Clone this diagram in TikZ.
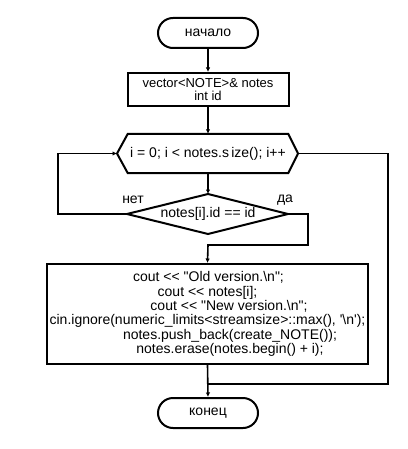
\documentclass[tikz,border=0pt]{standalone}
\usepackage{fontspec}
\setmainfont{Liberation Sans}[Ligatures=TeXOff]
\usetikzlibrary{arrows.meta,calc}
\begin{document}
\begin{tikzpicture}[x=1pt,y=-1pt,
  every node/.style={font=\fontsize{14}{14.3}\selectfont},
  shp/.style={draw, line width=2pt},
  term/.style={shp, rounded corners=15pt, minimum width=100pt, minimum height=30pt, inner sep=0},
  proc/.style={shp, rectangle, inner sep=0},
  conn/.style={line width=1.6pt},
  arr/.style={conn, -{Latex[length=4.5pt,width=4.5pt]}},
  lbl/.style={inner sep=0}
]
\useasboundingbox (0,0) rectangle (407,449);
\fill[white] (0,0) rectangle (407,449);

\node[term] (start) at (208,33) {начало};
\node[proc, minimum width=161pt, minimum height=33pt, align=center,
      font=\fontsize{13}{12.5}\selectfont] (init) at (208,89.5) {vector<NOTE>\& notes\\int id};
\node[minimum width=160pt, minimum height=39pt, inner sep=0] (loop) at (208,153.5) {i = 0; i < notes.s\,ize(); i++};
\coordinate (hexL) at (117,153.5);
\coordinate (hexR) at (298,153.5);
\draw[shp, line join=miter] (loop.north west) -- (loop.north east) -- (hexR) -- (loop.south east) -- (loop.south west) -- (hexL) -- cycle;

\node[inner sep=0] (cond) at (208,214) {notes[i].id == id};
\coordinate (condT) at (208,194);
\coordinate (condB) at (208,234);
\coordinate (condL) at (127,214);
\coordinate (condR) at (288,214);
\draw[shp, line join=miter] (condT) -- (condR) -- (condB) -- (condL) -- cycle;

\node[proc, minimum width=321pt, minimum height=100pt, align=center] (body) at (207.5,314)
  {\hspace*{2pt}cout << "Old version.\textbackslash n";\\
   cout << notes[i];\hspace*{21pt}\\
   \hspace*{43pt}cout << "New version.\textbackslash n";\\
   cin.ignore(numeric\_limits<streamsize>::max(), '\textbackslash n');\hspace*{6pt}\\
   \hspace*{45pt}notes.push\_back(create\_NOTE());\\
   \hspace*{45pt}notes.erase(notes.begin() + i);};
\node[term] (end) at (208,413) {конец};

\coordinate (lft) at (58,214);
\coordinate (rgt) at (308,214);
\coordinate (rgtd) at (308,245);
\coordinate (mid) at (208,245);
\coordinate (far) at (388,153.5);
\coordinate (fard) at (388,384);
\coordinate (join) at (208,384);

\draw[arr] (start) -- (init);
\draw[arr] (init) -- (loop);
\draw[arr] (loop) -- (condT);
\draw[arr] (condL) -- (lft) |- (hexL);
\draw[arr] (condR) -- (rgt) -- (rgtd) -- (mid) -- (body.north);
\draw[conn] (hexR) -- (far) -- (fard) -- (join);
\draw[arr] (body.south) -- (end.north);

\node[lbl] (no) at (133,200) {нет};
\node[lbl] (yes) at (285,200) {да};
\end{tikzpicture}
\end{document}
